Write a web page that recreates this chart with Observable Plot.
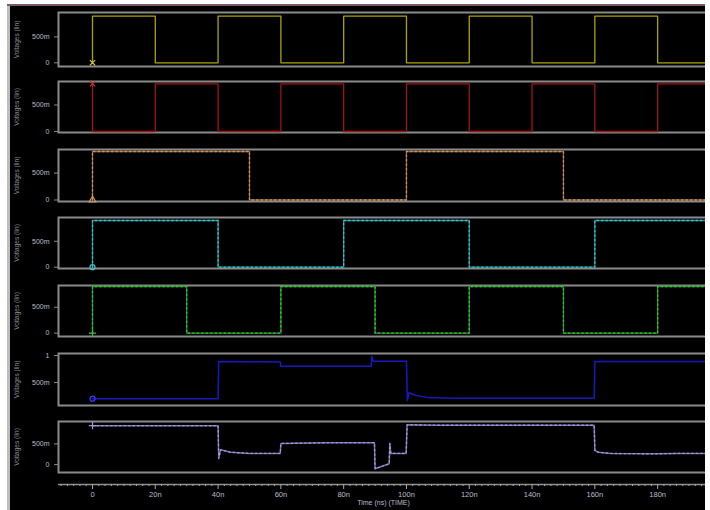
<!DOCTYPE html>
<html>
<head>
<meta charset="utf-8">
<script src="https://cdn.jsdelivr.net/npm/d3@7"></script>
<script src="https://cdn.jsdelivr.net/npm/@observablehq/plot@0.6"></script>
<style>
  html, body { margin: 0; padding: 0; background: #fff; }
  #root { position: relative; width: 710px; height: 510px; background: #fff; overflow: hidden;
          font-family: "Liberation Sans", "DejaVu Sans", sans-serif; }
  #screen { position: absolute; left: 10px; top: 6px; width: 695px; height: 504px; background: #000; overflow: hidden; }
  #screen svg { position: absolute; left: -10px; max-width: none !important; }
  .deco { position: absolute; }
</style>
</head>
<body>
<div id="root">
  <div class="deco" style="left:7px;top:4px;width:3px;height:506px;background:#bdbdbd"></div>
  <div class="deco" style="left:7px;top:4px;width:698px;height:2px;background:#7d5866"></div>
  <div id="screen"></div>
</div>
<script>
// ---------------- data (time in ns, voltage in V) ----------------
const timeTicks = [0, 20, 40, 60, 80, 100, 120, 140, 160, 180];
const timeTickLabels = ["0", "20n", "40n", "60n", "80n", "100n", "120n", "140n", "160n", "180n"];
const voltTickValues = [0, 0.5, 1];
const voltTickLabels = ["0", "500m", "1"];

// signal 1 (yellow) – period 40 ns
const yellowT = [0, 0, 20, 40, 60, 80, 100, 120, 140, 160, 180, 197];
const yellowV = [0, 0.9, 0, 0.9, 0, 0.9, 0, 0.9, 0, 0.9, 0, 0];
// signal 2 (red) – inverted
const redT = [0, 0, 20, 40, 60, 80, 100, 120, 140, 160, 180, 197];
const redV = [0.9, 0, 0.9, 0, 0.9, 0, 0.9, 0, 0.9, 0, 0.9, 0.9];
// signal 3 (tan) – period 100 ns
const tanT = [0, 0, 50, 100, 150, 197];
const tanV = [0, 0.9, 0, 0.9, 0, 0];
// signal 4 (teal) – period 80 ns
const tealT = [0, 0, 40, 80, 120, 160, 197];
const tealV = [0, 0.9, 0, 0.9, 0, 0.9, 0.9];
// signal 5 (green) – period 60 ns
const greenT = [0, 0, 30, 60, 90, 120, 150, 180, 197];
const greenV = [0, 0.9, 0, 0.9, 0, 0.9, 0, 0.9, 0.9];
// signal 6 (blue) – analog output
const blueT = [0, 40, 40.2, 50, 59.8, 60, 88.8, 89, 89.4, 95, 100, 100.3, 100.8, 103, 107, 115, 159.8, 160, 197];
const blueV = [0.20, 0.20, 0.89, 0.885, 0.88, 0.80, 0.80, 0.98, 0.895, 0.895, 0.895, 0.17, 0.31, 0.26, 0.22, 0.21, 0.21, 0.89, 0.89];
// signal 7 (lavender) – analog output
const lavT = [0, 40, 40.2, 40.8, 44, 50, 59.8, 60, 75, 89.8, 90, 94.5, 94.7, 95, 99.9, 100.2, 110, 159.8, 160, 161, 165, 179, 186, 197];
const lavV = [0.94, 0.94, 0.15, 0.36, 0.30, 0.27, 0.27, 0.51, 0.53, 0.53, -0.10, 0.02, 0.51, 0.27, 0.27, 0.96, 0.95, 0.95, 0.34, 0.30, 0.27, 0.26, 0.27, 0.27];

// ---------------- layout / style ----------------
const TIME_DOMAIN = [-10.83, 196.2];
const panelTop    = [12, 81, 149, 217, 285, 353, 421];
const panelBottom = [66, 132, 201, 268, 336, 405, 472];
const yDomains = [[-0.071, 0.971], [-0.019, 0.943], [-0.028, 0.937], [-0.025, 0.958],
                  [-0.064, 0.919], [0.074, 1.037], [-0.19, 1.04]];
const yTicks = [[0, 0.5], [0, 0.5], [0, 0.5], [0, 0.5], [0, 0.5], [0.5, 1], [0, 0.5]];
const SCREEN_TOP = 6;
const FRAME = "#8a8a8a";
const TEXT = "#b9bdca";
const FONT = "Liberation Sans, DejaVu Sans, sans-serif";

const signals = [
  {t: yellowT, v: yellowV, color: "#aaa400", light: "#d8d030", step: true,  dotted: false, marker: "times"},
  {t: redT,    v: redV,    color: "#a01414", light: "#d03030", step: true,  dotted: false, marker: "times"},
  {t: tanT,    v: tanV,    color: "#8e6440", light: "#c89464", step: true,  dotted: true,  marker: "triangle"},
  {t: tealT,   v: tealV,   color: "#1a8f96", light: "#40c0c8", step: true,  dotted: true,  marker: "circle"},
  {t: greenT,  v: greenV,  color: "#1a9020", light: "#40c040", step: true,  dotted: true,  marker: "plus"},
  {t: blueT,   v: blueV,   color: "#1818c0", light: "#3a3aff", step: false, dotted: false, marker: "circle"},
  {t: lavT,    v: lavV,    color: "#7a6aa8", light: "#a898d8", step: false, dotted: true,  marker: "plus"}
];

const voltFormat = d => voltTickLabels[voltTickValues.indexOf(d)];
const screen = document.getElementById("screen");

function place(svg, top) {
  svg.style.maxWidth = "none";
  svg.style.width = svg.getAttribute("width") + "px";
  svg.style.height = svg.getAttribute("height") + "px";
  svg.style.top = top + "px";
  screen.appendChild(svg);
}

signals.forEach((s, i) => {
  const data = s.t.map((t, j) => ({t, v: s.v[j]}));
  const h = panelBottom[i] - panelTop[i];
  const curve = s.step ? "step-after" : "linear";
  const marks = [
    Plot.frame({stroke: FRAME, strokeWidth: 2}),
    Plot.axisY({
      ticks: yTicks[i], tickFormat: voltFormat, tickSize: 4, tickPadding: 5,
      fontSize: 7, label: "Voltages (lin)", labelAnchor: "center", labelOffset: 44, labelArrow: "none"
    }),
    Plot.line(data, {x: "t", y: "v", stroke: s.color, strokeWidth: s.step ? 1.3 : 1.5, curve})
  ];
  if (s.dotted) {
    marks.push(Plot.line(data, {x: "t", y: "v", stroke: s.light, strokeWidth: 1.3, strokeDasharray: "1.5 3", curve}));
  }
  marks.push(Plot.dot(data.slice(0, 1), {x: "t", y: "v", symbol: s.marker, r: 2.5, stroke: s.light, strokeWidth: 1.2}));
  const svg = Plot.plot({
    width: 712, height: h + 4,
    marginLeft: 58, marginRight: 4, marginTop: 2, marginBottom: 2,
    x: {domain: TIME_DOMAIN, axis: null},
    y: {domain: yDomains[i]},
    style: {background: "transparent", color: TEXT, fontFamily: FONT, overflow: "visible"},
    marks
  });
  svg.querySelectorAll('[aria-label="y-axis tick"]').forEach(g => g.setAttribute("stroke", FRAME));
  svg.querySelectorAll('[aria-label="y-axis label"]').forEach(g => {
    g.setAttribute("fill", "#8e8e96");
    g.setAttribute("font-size", "6.5");
  });
  place(svg, panelTop[i] - 2 - SCREEN_TOP);
});

// time axis
const timeMinor = d3.range(-10, 197, 2).filter(d => d % 20 !== 0);
const axisSvg = Plot.plot({
  width: 712, height: 38,
  marginLeft: 58, marginRight: 4, marginTop: 8, marginBottom: 28,
  x: {domain: TIME_DOMAIN},
  y: {domain: [0, 1], axis: null},
  style: {background: "transparent", color: TEXT, fontFamily: FONT, overflow: "visible"},
  marks: [
    Plot.ruleY([0], {stroke: "#8e8e8e", strokeWidth: 1.5}),
    Plot.axisX({ticks: timeMinor, tickSize: 2, tickFormat: () => "", label: null}),
    Plot.axisX({
      ticks: timeTicks, tickSize: 5, tickPadding: 2, fontSize: 7.5,
      tickFormat: d => timeTickLabels[timeTicks.indexOf(d)],
      label: "Time (ns) (TIME)", labelAnchor: "center", labelOffset: 20, labelArrow: "none"
    })
  ]
});
axisSvg.querySelectorAll('[aria-label="x-axis tick"]').forEach(g => g.setAttribute("stroke", "#a8a8a8"));
axisSvg.querySelectorAll('[aria-label="x-axis label"]').forEach(g => g.setAttribute("font-size", "7"));
place(axisSvg, 482 - 8 - SCREEN_TOP);
</script>
</body>
</html>
